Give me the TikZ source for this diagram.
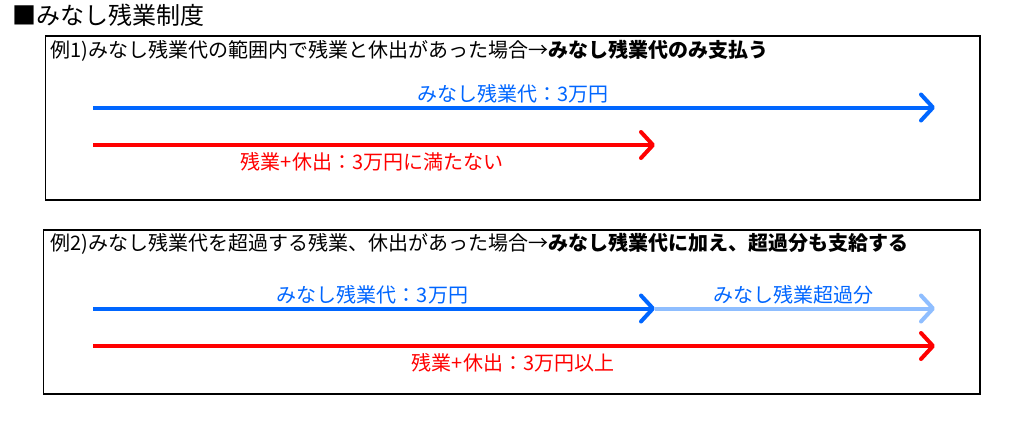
\documentclass[tikz,border=0pt]{standalone}
\usepackage{fontspec}
\setmainfont{Noto Sans CJK JP}
\usetikzlibrary{arrows.meta}
\definecolor{myblue}{RGB}{0,102,255}
\definecolor{lightblue}{RGB}{143,190,255}
\definecolor{myred}{RGB}{255,0,0}
\begin{document}
\begin{tikzpicture}[x=1pt,y=-1pt,
  frame/.style={draw=black, line width=1.3pt, inner sep=0pt},
  hdr/.style={anchor=west, inner sep=0pt, font=\fontsize{20}{23}\selectfont},
  lbl/.style={inner sep=0pt, font=\fontsize{20}{23}\selectfont},
  arr/.style={line width=4pt, -{Straight Barb[length=12pt,width=26pt,round]}},
]
\useasboundingbox (0,0) rectangle (1024,431);
\fill[white] (0,0) rectangle (1024,431);

\node[anchor=west, inner sep=0pt, font=\fontsize{24}{27}\selectfont] (title) at (12,15) {■みなし残業制度};

% Example 1
\node[frame, minimum width=934.7pt, minimum height=164pt] (box1) at (512.65,118) {};
\node[hdr] (h1) at (50,51) {例1)みなし残業代の範囲内で残業と休出があった場合→\textbf{みなし残業代のみ支払う}};
\coordinate (b1s) at (93,107.5);
\coordinate (b1e) at (935,107.5);
\coordinate (r1s) at (93,145);
\coordinate (r1e) at (655,145);
\draw[arr, myblue] (b1s) -- (b1e);
\draw[arr, myred] (r1s) -- (r1e);
\node[lbl, text=myblue] (l1) at (513,94) {みなし残業代：3万円};
\node[lbl, text=myred] (l2) at (372,162) {残業+休出：3万円に満たない};

% Example 2
\node[frame, minimum width=936.7pt, minimum height=164pt] (box2) at (511.65,312) {};
\node[hdr] (h2) at (50,244) {例2)みなし残業代を超過する残業、休出があった場合→\textbf{みなし残業代に加え、超過分も支給する}};
\coordinate (b2s) at (93,308.5);
\coordinate (b2m) at (655,308.5);
\coordinate (b2e) at (935,308.5);
\coordinate (r2s) at (93,346);
\coordinate (r2e) at (935,346);
\draw[arr, lightblue] (b2m) -- (b2e);
\draw[arr, myblue] (b2s) -- (b2m);
\draw[arr, myred] (r2s) -- (r2e);
\node[lbl, text=myblue] (l3) at (372.5,295) {みなし残業代：3万円};
\node[lbl, text=myblue] (l4) at (793,295) {みなし残業超過分};
\node[lbl, text=myred] (l5) at (513,363) {残業+休出：3万円以上};
\end{tikzpicture}
\end{document}
